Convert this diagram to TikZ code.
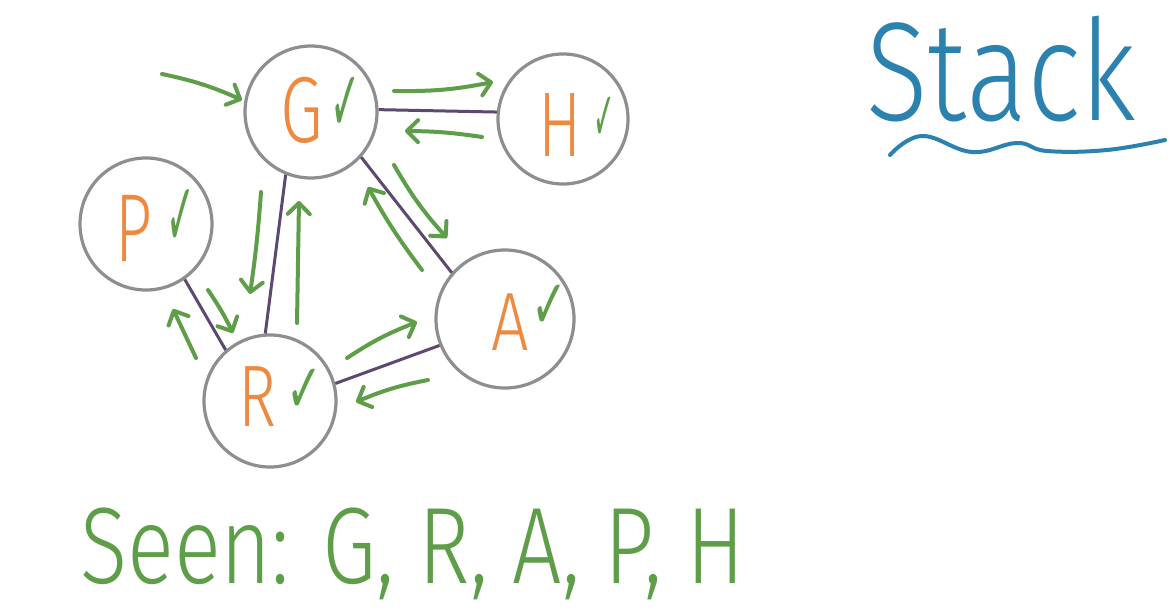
\documentclass[tikz,border=0pt]{standalone}
\usepackage{fontspec}
\usepackage{graphicx}
\newfontfamily\hand{Fira Sans Light}
\newfontfamily\sym{DejaVu Sans}
\usetikzlibrary{arrows.meta}
\definecolor{cgray}{HTML}{8E8E8E}
\definecolor{cpurple}{HTML}{5E4870}
\definecolor{cgreen}{HTML}{5E9E48}
\definecolor{corange}{HTML}{EE8A40}
\definecolor{cblue}{HTML}{2C82AE}
\begin{document}
\begin{tikzpicture}[x=1pt,y=-1pt,
  vert/.style={circle,draw=cgray,line width=3.2pt,minimum size=132pt,inner sep=0pt},
  letter/.style={text=corange,font=\hand\fontsize{92}{92}\selectfont,inner sep=0pt},
  chk/.style={text=cgreen,font=\sym\fontsize{86}{86}\selectfont,inner sep=0pt},
  edge/.style={draw=cpurple,line width=3pt},
  garrow/.style={draw=cgreen,line width=4pt,line cap=round,line join=round,
    -{Straight Barb[length=11pt,width=22pt,round]}},
  wave/.style={draw=cblue,line width=4pt,line cap=round}
]
\fill[white] (0,0) rectangle (1172,613);
\useasboundingbox (0,0) rectangle (1172,613);

% vertices
\node[vert] (G) at (311,112) {};
\node[vert, minimum size=130pt] (H) at (563,119) {};
\node[vert] (P) at (146,224) {};
\node[vert] (R) at (270,401) {};
\node[vert, minimum size=138pt] (A) at (505,319) {};

% labels
\node[letter] (Gt) at (302,110) {\scalebox{0.75}[1.02]{G}};
\node[chk] (Gc) at (346,104) {\scalebox{0.42}[1]{✓}};
\node[letter] (Ht) at (560,125) {\scalebox{0.7}[1]{H}};
\node[chk] (Hc) at (604,119) {\scalebox{0.3}[0.8]{✓}};
\node[letter] (Pt) at (134,228) {\scalebox{0.7}[1.05]{P}};
\node[chk] (Pc) at (181,218) {\scalebox{0.4}[1.05]{✓}};
\node[letter] (Rt) at (257,397) {\scalebox{0.7}[0.95]{R}};
\node[chk] (Rc) at (305,391) {\scalebox{0.5}[0.8]{✓}};
\node[letter] (At) at (510,322) {\scalebox{0.72}[0.9]{A}};
\node[chk] (Ac) at (550,307) {\scalebox{0.5}[0.8]{✓}};

% undirected edges
\draw[edge] (G.2) -- (H.174);
\draw[edge] (G.248) -- (R.94);
\draw[edge] (G.-42) -- (A.139);
\draw[edge] (P.-55) -- (R.131);
\draw[edge] (R.15) -- (A.202);

% arrow end points
\coordinate (in0) at (162,74);
\coordinate (in1) at (242,100);
\coordinate (gh0) at (394,91);
\coordinate (gh1) at (493,82);
\coordinate (hg0) at (482,137);
\coordinate (hg1) at (405,131);
\coordinate (ga0) at (394,165);
\coordinate (ga1) at (447,238);
\coordinate (ag0) at (422,270);
\coordinate (ag1) at (368,187);
\coordinate (gr0) at (261,192);
\coordinate (gr1) at (250,294);
\coordinate (rg0) at (297,323);
\coordinate (rg1) at (299,201);
\coordinate (pr0) at (208,290);
\coordinate (pr1) at (233,333);
\coordinate (rp0) at (196,358);
\coordinate (rp1) at (173,309);
\coordinate (ra0) at (347,358);
\coordinate (ra1) at (417,322);
\coordinate (ar0) at (428,380);
\coordinate (ar1) at (356,402);

% traversal arrows
\draw[garrow] (in0) to[bend left=6] (in1);
\draw[garrow] (gh0) to[bend right=6] (gh1);
\draw[garrow] (hg0) to[bend right=4] (hg1);
\draw[garrow] (ga0) to[bend right=6] (ga1);
\draw[garrow] (ag0) to[bend left=4] (ag1);
\draw[garrow] (gr0) to[bend left=2] (gr1);
\draw[garrow] (rg0) to (rg1);
\draw[garrow] (pr0) to[bend left=4] (pr1);
\draw[garrow] (rp0) to (rp1);
\draw[garrow] (ra0) to[bend left=6] (ra1);
\draw[garrow] (ar0) to[bend right=6] (ar1);

% texts
\node[anchor=north west,inner sep=0pt,text=cblue,font=\hand] (stack) at (866,16)
  {\resizebox*{270pt}{106pt}{Stack}};
\draw[wave] plot[smooth,tension=0.7] coordinates
  {(890,155) (922,136) (972,152) (1017,143) (1047,151) (1107,150) (1165,140)};
\node[anchor=north west,inner sep=0pt,text=cgreen,font=\hand] (seen) at (80,508)
  {\resizebox*{665pt}{92pt}{Seen: G, R, A, P, H}};
\end{tikzpicture}
\end{document}
